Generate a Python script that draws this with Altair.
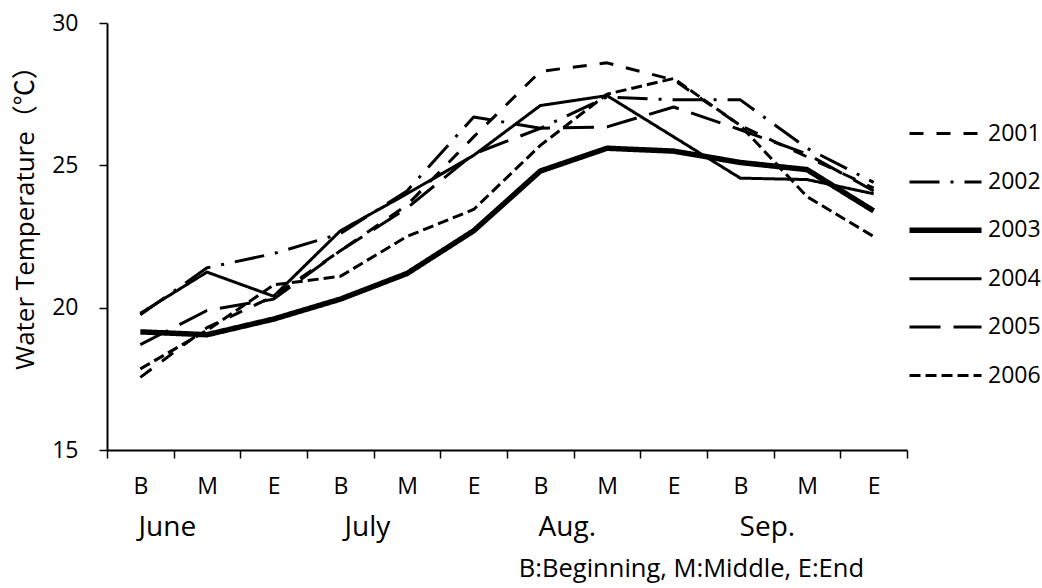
import altair as alt
import pandas as pd

# ---- data ----
phases = ["B", "M", "E"] * 4
months = ["June", "July", "Aug.", "Sep."]
years = ["2001", "2002", "2003", "2004", "2005", "2006"]

t2001 = [17.55, 19.3, 20.4, 22.0, 23.6, 26.0, 28.3, 28.6, 28.0, 26.4, 25.3, 24.2]
t2002 = [19.75, 21.4, 21.9, 22.6, 24.1, 26.7, 26.3, 27.4, 27.3, 27.3, 25.6, 24.4]
t2003 = [19.15, 19.05, 19.6, 20.3, 21.2, 22.7, 24.8, 25.6, 25.5, 25.1, 24.85, 23.4]
t2004 = [19.8, 21.25, 20.4, 22.7, 24.0, 25.35, 27.1, 27.45, 26.0, 24.55, 24.5, 24.0]
t2005 = [18.7, 19.9, 20.3, 22.0, 23.5, 25.4, 26.3, 26.35, 27.05, 26.25, 25.4, 24.1]
t2006 = [17.85, 19.2, 20.8, 21.1, 22.5, 23.45, 25.7, 27.5, 28.05, 26.4, 23.9, 22.5]
series = [t2001, t2002, t2003, t2004, t2005, t2006]

y_ticks = [15, 20, 25, 30]
y_title = "Water Temperature（℃）"
note = "B:Beginning, M:Middle, E:End"
bold_year = "2003"

rows = []
for yr, vals in zip(years, series):
    for i, v in enumerate(vals):
        rows.append({"idx": i, "year": yr, "temp": v})
df = pd.DataFrame(rows)

month_df = pd.DataFrame({"idx": [i * 3 for i in range(len(months))], "month": months})

FONT = "Open Sans, Noto Sans CJK SC"
dashes = [[14, 13], [30, 11, 3, 11], [1, 0], [1, 0], [31, 13], [11, 5]]
THIN, THICK = 3, 5.5

W, H = 800, 427

legend = alt.Legend(
    title=None, orient="none", legendX=827, legendY=99,
    symbolType="stroke", symbolSize=5184, symbolStrokeColor="black",
    symbolStrokeWidth=alt.ExprRef(expr=f"datum.value == '{bold_year}' ? {THICK} : {THIN}"),
    labelFont=FONT, labelFontSize=23, labelColor="black", labelOffset=31,
    rowPadding=24.4, padding=0,
)

x_enc = alt.X(
    "idx:O",
    scale=alt.Scale(type="band", paddingInner=0, paddingOuter=0),
    axis=alt.Axis(
        labelExpr=str(phases) + "[datum.value]",
        tickBand="extent", labelAngle=0, title=None,
        domainColor="black", domainWidth=2, tickColor="black", tickWidth=1.5,
        tickSize=8, labelFont=FONT, labelFontSize=23, labelColor="black",
        labelPadding=17, grid=False,
    ),
)

lines = alt.Chart(df).mark_line(color="black", strokeJoin="round").encode(
    x=x_enc,
    y=alt.Y(
        "temp:Q",
        scale=alt.Scale(domain=[15, 30], nice=False, zero=False),
        axis=alt.Axis(
            values=y_ticks, title=y_title, grid=False,
            domainColor="black", domainWidth=2, tickColor="black", tickWidth=1.5,
            tickSize=8, labelFont=FONT, labelFontSize=23, labelColor="black",
            labelPadding=21, titleFont=FONT, titleFontSize=26, titleFontWeight="normal",
            titleColor="black", titleX=-82, titleY=188, titleAngle=270,
            titleAlign="center", titleBaseline="middle",
        ),
    ),
    strokeDash=alt.StrokeDash("year:N", scale=alt.Scale(domain=years, range=dashes), legend=legend),
    strokeWidth=alt.condition(f"datum.year == '{bold_year}'", alt.value(THICK), alt.value(THIN)),
    detail="year:N",
)

month_text = alt.Chart(month_df).mark_text(
    font=FONT, fontSize=28, dx=27, align="center", baseline="middle", color="black"
).encode(x=alt.X("idx:O"), y=alt.value(505), text="month:N")

note_text = alt.Chart(pd.DataFrame({"t": [note]})).mark_text(
    font=FONT, fontSize=25.5, align="right", baseline="middle", color="black"
).encode(x=alt.value(757), y=alt.value(546), text="t:N")

chart = alt.layer(lines, month_text, note_text).properties(
    width=W, height=H,
    autosize=alt.AutoSizeParams(type="none"),
    padding={"left": 107, "top": 23, "right": 135, "bottom": 138},
    background="white",
).configure_view(stroke=None)

chart.save("out.html", embed_options={"renderer": "svg", "actions": False})
